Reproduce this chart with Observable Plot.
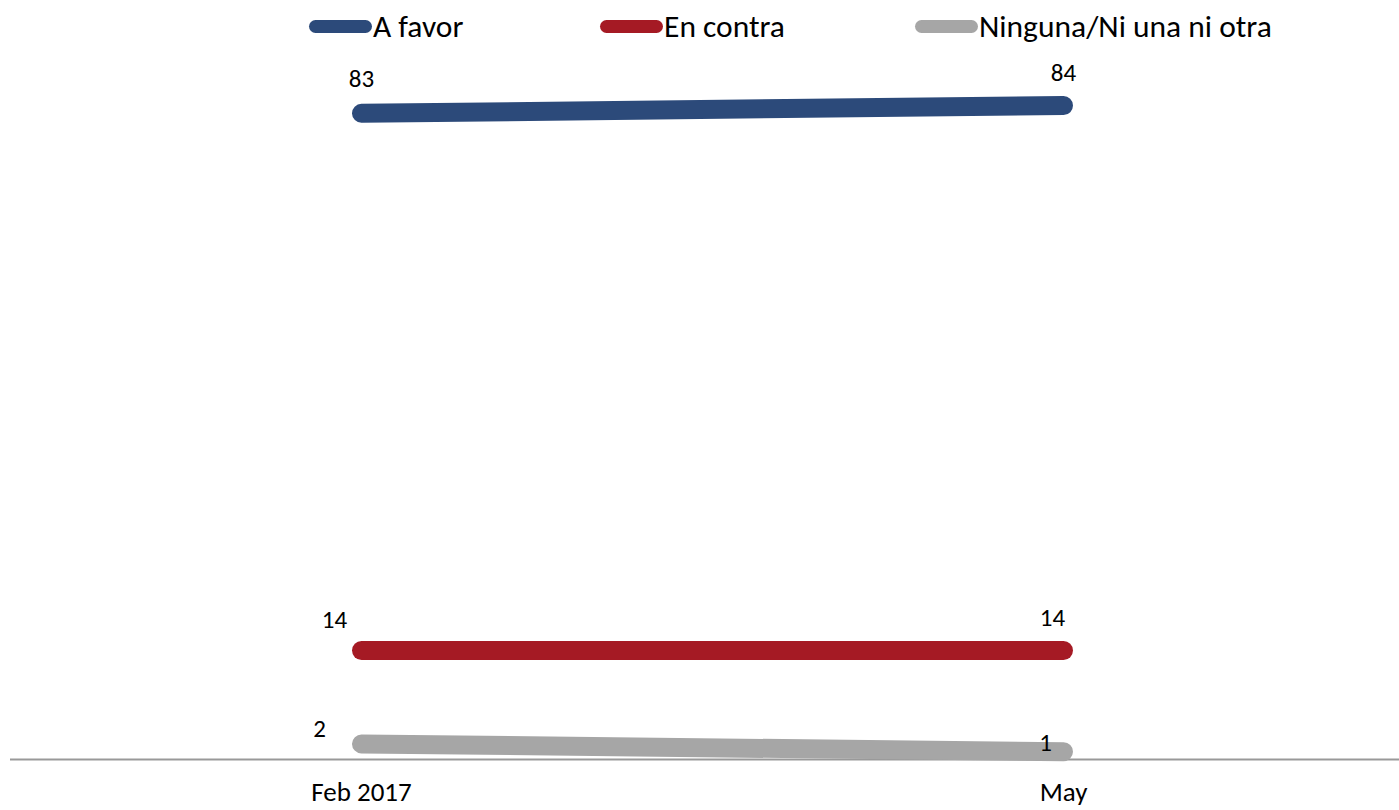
<!DOCTYPE html>
<html>
<head>
<meta charset="utf-8">
<script src="https://cdn.jsdelivr.net/npm/d3@7"></script>
<script src="https://cdn.jsdelivr.net/npm/@observablehq/plot@0.6"></script>
<style>
  html, body { margin: 0; padding: 0; background: #fff; }
  body { width: 1399px; height: 810px; overflow: hidden; font-family: Carlito, Calibri, Lato, "Open Sans", sans-serif; }
  #legend { position: relative; height: 52px; }
  .item { position: absolute; top: 6px; display: flex; align-items: center; height: 40px; }
  .sw { width: 63px; height: 13px; border-radius: 7px; }
  .lab { font-size: 31.5px; color: #000; line-height: 40px; margin-left: 1px; }
  #chart svg { display: block; }
</style>
</head>
<body>
<div id="legend"></div>
<div id="chart"></div>
<script>
const periods = ["Feb 2017", "May"];
const series = ["A favor", "En contra", "Ninguna/Ni una ni otra"];
const aFavor = [83, 84];
const enContra = [14, 14];
const ninguna = [2, 1];
const colors = ["#2C4A7A", "#A51A24", "#A6A6A6"];

const values = [aFavor, enContra, ninguna];
const rows = [];
series.forEach((s, i) => periods.forEach((p, j) => rows.push({series: s, period: p, value: values[i][j]})));

// legend
const legendLeft = [309, 600, 915];
const legend = document.getElementById("legend");
series.forEach((s, i) => {
  const it = document.createElement("div");
  it.className = "item";
  it.style.left = legendLeft[i] + "px";
  it.innerHTML = `<div class="sw" style="background:${colors[i]}"></div><div class="lab">${s}</div>`;
  legend.appendChild(it);
});

// label offsets per series / period
const offsets = {
  "A favor": [[0, -34], [0, -33]],
  "En contra": [[-27, -31], [-11, -33]],
  "Ninguna/Ni una ni otra": [[-42, -15], [-18, -9]]
};
const labelMarks = [];
series.forEach(s => periods.forEach((p, j) => {
  const [dx, dy] = offsets[s][j];
  labelMarks.push(Plot.text(rows.filter(d => d.series === s && d.period === p), {
    x: "period", y: "value", text: d => String(d.value), dx, dy,
    fontSize: 25, fill: "#000"
  }));
}));

const chart = Plot.plot({
  width: 1399,
  height: 758,
  marginLeft: 10,
  marginRight: 0,
  marginTop: 53,
  marginBottom: 51,
  style: {fontFamily: 'Carlito, Calibri, Lato, "Open Sans", sans-serif', background: "#fff", overflow: "visible"},
  x: {type: "point", domain: periods, range: [361, 1063], padding: 0, label: null},
  y: {domain: [0, 84], axis: null},
  color: {domain: series, range: colors},
  marks: [
    Plot.ruleY([0], {stroke: "#999", strokeWidth: 2}),
    Plot.line(rows, {x: "period", y: "value", z: "series", stroke: "series", strokeWidth: 19, strokeLinecap: "round"}),
    ...labelMarks,
    Plot.axisX({tickSize: 0, tickPadding: 22, fontSize: 27, fill: "#000", label: null})
  ]
});
document.getElementById("chart").appendChild(chart);
</script>
</body>
</html>
